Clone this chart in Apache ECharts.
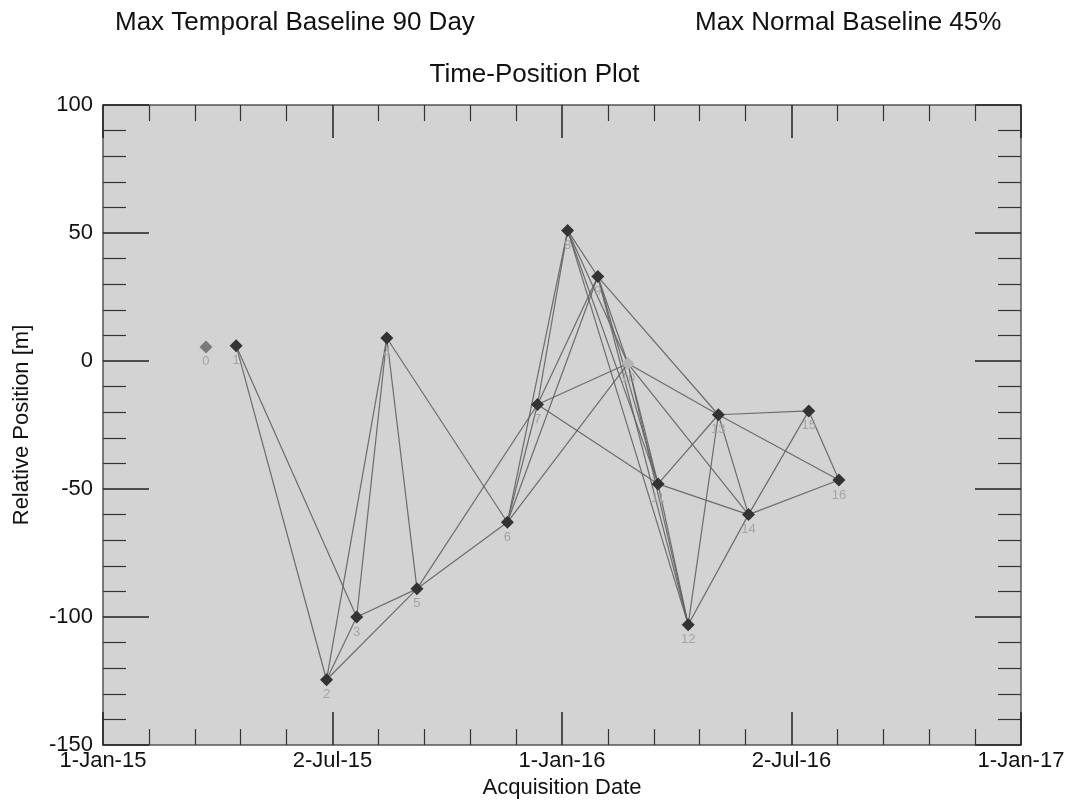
<!DOCTYPE html>
<html style="height: 100%">
<head>
<meta charset="utf-8">
<script src="https://cdn.jsdelivr.net/npm/echarts@6/dist/echarts.min.js"></script>
</head>
<body style="height: 100%; margin: 0; background: #fff">
<div id="container" style="width: 1069px; height: 800px"></div>
<script type="text/javascript">
// acquisitions (index = label under each diamond)
var acqDates = ['2015-03-24', '2015-04-17', '2015-06-28', '2015-07-22', '2015-08-15', '2015-09-08',
  '2015-11-19', '2015-12-13', '2016-01-06', '2016-01-30', '2016-02-23', '2016-03-18',
  '2016-04-11', '2016-05-05', '2016-05-29', '2016-07-16', '2016-08-09'];
var relPos = [5.5, 6, -124.5, -100, 9, -89, -63, -17, 51, 33, -1, -48, -103, -21, -60, -19.5, -46.5];
// connections between acquisitions
var pairs = [[1, 2], [1, 3], [2, 3], [2, 4], [2, 5], [3, 4], [3, 5], [4, 5], [4, 6], [5, 6], [5, 7],
  [6, 7], [6, 8], [6, 9], [6, 10], [7, 8], [7, 9], [7, 10], [7, 11], [8, 9], [8, 10], [8, 11], [8, 12],
  [9, 10], [9, 11], [9, 12], [9, 13], [10, 11], [10, 12], [10, 13], [10, 14], [11, 12], [11, 13], [11, 14],
  [12, 13], [12, 14], [13, 14], [13, 15], [13, 16], [14, 15], [14, 16], [15, 16]];
var xTickLabels = ['1-Jan-15', '2-Jul-15', '1-Jan-16', '2-Jul-16', '1-Jan-17'];
var excluded = {0: '#7a7a7a', 10: '#b4b4b4'};

var t0 = Date.UTC(2015, 0, 1);
function dayOf(s) {
  var p = s.split('-');
  return (Date.UTC(+p[0], +p[1] - 1, +p[2]) - t0) / 86400000;
}
var span = 731, step = span / 4;
var font = 'Liberation Sans';

var nodes = acqDates.map(function (d, i) {
  return {
    name: String(i),
    value: [dayOf(d), relPos[i]],
    itemStyle: { color: excluded[i] || '#333333' }
  };
});
var links = pairs.map(function (p) { return { source: p[0], target: p[1] }; });

var tickStyle = { show: true, inside: true, lineStyle: { color: '#222', width: 1.5 } };
function xAx(pos) {
  return {
    type: 'value', position: pos, min: 0, max: span, interval: step,
    axisLine: { show: true, onZero: false, lineStyle: { color: '#555', width: 1.5 } },
    axisTick: Object.assign({ length: 33 }, tickStyle),
    minorTick: { show: true, splitNumber: 5, length: 16, lineStyle: { color: '#333', width: 1.2 } },
    splitLine: { show: false },
    axisLabel: pos === 'bottom' ? {
      margin: 5, color: '#111', fontSize: 22, fontFamily: font,
      formatter: function (v) { return xTickLabels[Math.round(v / step)]; }
    } : { show: false },
    name: pos === 'bottom' ? 'Acquisition Date' : '',
    nameLocation: 'middle', nameGap: 29,
    nameTextStyle: { color: '#111', fontSize: 22, fontFamily: font }
  };
}
function yAx(pos) {
  return {
    type: 'value', position: pos, min: -150, max: 100, interval: 50,
    axisLine: { show: true, onZero: false, lineStyle: { color: '#555', width: 1.5 } },
    axisTick: Object.assign({ length: 46 }, tickStyle),
    minorTick: { show: true, splitNumber: 5, length: 23, lineStyle: { color: '#333', width: 1.2 } },
    splitLine: { show: false },
    axisLabel: pos === 'left' ? { margin: 10, color: '#111', fontSize: 22, fontFamily: font } : { show: false },
    name: pos === 'left' ? 'Relative Position [m]' : '',
    nameLocation: 'middle', nameGap: 70,
    nameTextStyle: { color: '#111', fontSize: 22, fontFamily: font }
  };
}

var myChart = echarts.init(document.getElementById('container'));
var option = {
  animation: false,
  title: [
    { text: 'Max Temporal Baseline 90 Day', left: 110, top: 5,
      textStyle: { fontSize: 26, fontWeight: 'normal', color: '#111', fontFamily: font } },
    { text: 'Max Normal Baseline 45%', left: 690, top: 5,
      textStyle: { fontSize: 26, fontWeight: 'normal', color: '#111', fontFamily: font } },
    { text: 'Time-Position Plot', left: 'center', top: 57,
      textStyle: { fontSize: 26, fontWeight: 'normal', color: '#111', fontFamily: font } }
  ],
  grid: {
    left: 103, right: 48, top: 105, bottom: 55, outerBoundsMode: 'none',
    show: true, backgroundColor: '#d3d3d3', borderWidth: 0
  },
  xAxis: [xAx('bottom'), xAx('top')],
  yAxis: [yAx('left'), yAx('right')],
  series: [{
    type: 'graph',
    layout: 'none',
    coordinateSystem: 'cartesian2d',
    symbol: 'diamond',
    symbolSize: 13,
    data: nodes,
    links: links,
    lineStyle: { color: '#606060', width: 1.2, opacity: 0.9 },
    label: {
      show: true, position: 'bottom', distance: 2,
      color: '#a4a4a4', fontSize: 13, fontFamily: font,
      formatter: '{b}'
    },
    emphasis: { disabled: true }
  }]
};
myChart.setOption(option);
</script>
</body>
</html>
